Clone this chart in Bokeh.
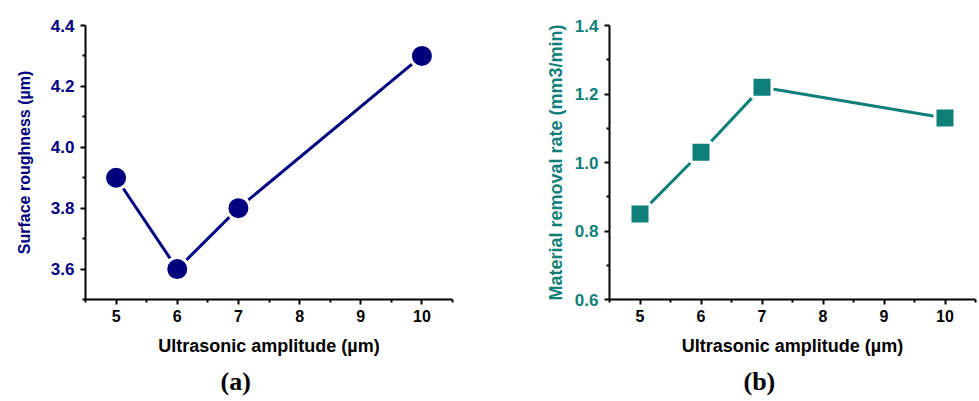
from bokeh.plotting import figure
from bokeh.models import FixedTicker, Title, Range1d, NumeralTickFormatter
from bokeh.layouts import row
from bokeh.embed import file_html
from bokeh.resources import INLINE

amplitude = [5, 6, 7, 10]
roughness = [3.9, 3.6, 3.8, 4.3]
removal_rate = [0.85, 1.03, 1.22, 1.13]

x_ticks = [5, 6, 7, 8, 9, 10]
x_minor = [4.5, 5.5, 6.5, 7.5, 8.5, 9.5, 10.5]
y1_ticks = [3.6, 3.8, 4.0, 4.2, 4.4]
y1_minor = [3.5, 3.7, 3.9, 4.1, 4.3]
y2_ticks = [0.6, 0.8, 1.0, 1.2, 1.4]
y2_minor = [0.7, 0.9, 1.1, 1.3]

NAVY = "#00007f"
TEAL = "#0e7f79"
FONT = "Liberation Sans"


def make(yvals, yr, yt, ym, ylabel, ylabel_size, ylabel_standoff, color, marker, msize,
         caption, cap_offset, left, right, wid):
    p = figure(width=wid, height=401, output_backend="svg", toolbar_location=None,
               x_range=Range1d(4.5, 10.5), y_range=Range1d(*yr),
               min_border_left=left, min_border_right=right,
               min_border_top=25, min_border_bottom=10)
    p.outline_line_color = None
    p.grid.visible = False
    p.background_fill_color = "white"
    p.border_fill_color = "white"

    p.line(amplitude, yvals, line_color=color, line_width=3)
    p.scatter(amplitude, yvals, marker=marker, size=msize, fill_color=color,
              line_color="white", line_width=3)

    xa = p.xaxis[0]
    xa.ticker = FixedTicker(ticks=x_ticks, minor_ticks=x_minor)
    xa.axis_label = "Ultrasonic amplitude (µm)"
    ya = p.yaxis[0]
    ya.ticker = FixedTicker(ticks=yt, minor_ticks=ym)
    ya.axis_label = ylabel
    ya.formatter = NumeralTickFormatter(format="0.0")

    for ax in (xa, ya):
        ax.axis_line_width = 2
        ax.axis_line_color = "black"
        ax.major_tick_line_width = 2
        ax.minor_tick_line_width = 2
        ax.major_tick_line_color = "black"
        ax.minor_tick_line_color = "black"
        ax.major_tick_in = 0
        ax.major_tick_out = 5
        ax.minor_tick_in = 0
        ax.minor_tick_out = 3
        ax.major_label_text_font = FONT
        ax.major_label_text_font_style = "bold"
        ax.axis_label_text_font = FONT
        ax.axis_label_text_font_style = "bold"
    xa.major_label_text_font_size = "16px"
    ya.major_label_text_font_size = "17px"
    xa.axis_label_text_font_size = "18px"
    ya.axis_label_text_font_size = ylabel_size
    xa.major_label_text_color = "black"
    xa.axis_label_text_color = "black"
    xa.major_label_standoff = 5
    xa.axis_label_standoff = 11
    ya.major_label_text_color = color
    ya.axis_label_text_color = color
    ya.major_label_standoff = 6
    ya.axis_label_standoff = ylabel_standoff

    t = Title(text=caption, align="left", text_font="Liberation Serif",
              text_font_size="26px", text_font_style="bold", text_color="black",
              standoff=12, offset=cap_offset)
    p.add_layout(t, "below")
    return p


p1 = make(roughness, (3.5, 4.4), y1_ticks, y1_minor, "Surface roughness (µm)", "16px", 15,
          NAVY, "circle", 23, "(a)", 135, 85, 38, 490)
p2 = make(removal_rate, (0.6, 1.4), y2_ticks, y2_minor, "Material removal rate (mm3/min)",
          "18px", 6, TEAL, "square", 20, "(b)", 134, 119, 4, 489)

layout = row(p1, p2, spacing=0)
open("out.html", "w").write(file_html(layout, INLINE))
